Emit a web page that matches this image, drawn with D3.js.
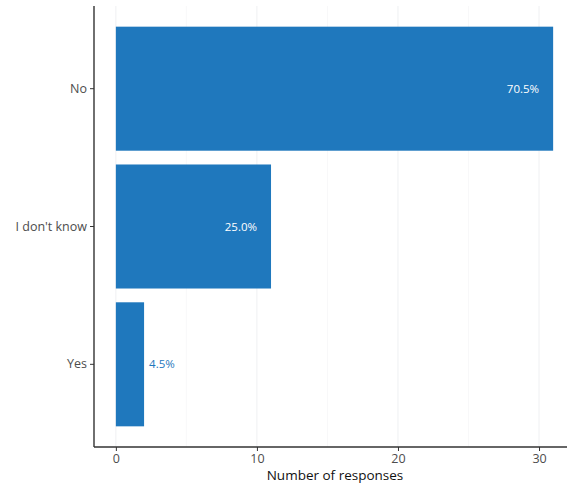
<!DOCTYPE html>
<html>
<head>
<meta charset="utf-8">
<script src="https://cdn.jsdelivr.net/npm/d3@7"></script>
<style>
  body { margin: 0; background: #fff; }
  svg { font-family: "Open Sans", Lato, sans-serif; }
</style>
</head>
<body>
<div id="chart" style="width:567px;height:485px"></div>
<script>
// data
const categories = ["No", "I don't know", "Yes"];
const counts = [31, 11, 2];
const pctLabels = ["70.5%", "25.0%", "4.5%"];
const xTicks = [0, 10, 20, 30];
const xMinor = [5, 15, 25, 35];

const width = 567, height = 485;
const margin = {top: 6, left: 94, right: -8, bottom: 38};
const plotWidth = width - margin.left - margin.right;
const plotHeight = height - margin.top - margin.bottom;

const svg = d3.select("#chart").append("svg")
    .attr("width", width)
    .attr("height", height);

const BLUE = "#1f78bd";

// x scale with ggplot-like 5% expansion
let xScale = d3.scaleLinear()
    .domain([-1.55, 32.55])
    .range([0, plotWidth]);

// y: discrete, 0.6 expansion each side
const step = plotHeight / (categories.length - 1 + 1.2);
let yScale = d3.scaleBand()
    .domain(categories)
    .range([0.1 * step, plotHeight - 0.1 * step])
    .paddingInner(0.1)
    .paddingOuter(0.05);

const plot = svg.append("g")
    .attr("transform", `translate(${margin.left}, ${margin.top})`);

// gridlines
plot.selectAll(".gridMinor")
    .data(xMinor)
    .enter().append("line")
    .attr("x1", d => xScale(d)).attr("x2", d => xScale(d))
    .attr("y1", 0).attr("y2", plotHeight)
    .style("stroke", "#f3f4f5").style("stroke-width", 0.6);

plot.selectAll(".gridMajor")
    .data(xTicks)
    .enter().append("line")
    .attr("x1", d => xScale(d)).attr("x2", d => xScale(d))
    .attr("y1", 0).attr("y2", plotHeight)
    .style("stroke", "#eff0f2").style("stroke-width", 1);

// bars
const data = categories.map((c, i) => ({cat: c, n: counts[i], pct: pctLabels[i]}));

plot.selectAll(".bar")
    .data(data)
    .enter().append("rect")
    .attr("x", xScale(0))
    .attr("y", d => yScale(d.cat))
    .attr("height", yScale.bandwidth())
    .attr("width", d => xScale(d.n) - xScale(0))
    .style("fill", BLUE);

// percent labels
plot.selectAll(".pct")
    .data(data)
    .enter().append("text")
    .attr("x", d => d.n > 5 ? xScale(d.n) - 14 : xScale(d.n) + 5)
    .attr("y", d => yScale(d.cat) + yScale.bandwidth() / 2)
    .attr("dy", "0.35em")
    .attr("text-anchor", d => d.n > 5 ? "end" : "start")
    .style("fill", d => d.n > 5 ? "#ffffff" : BLUE)
    .style("font-size", "11.5px")
    .text(d => d.pct);

// axes
const xAxis = plot.append("g")
    .attr("transform", `translate(0, ${plotHeight})`)
    .call(d3.axisBottom(xScale).tickValues(xTicks).tickSize(4).tickPadding(3));

const yAxis = plot.append("g")
    .call(d3.axisLeft(yScale).tickSize(4).tickPadding(3));

[xAxis, yAxis].forEach(ax => {
    ax.select(".domain").style("stroke", "#333").style("stroke-width", 1.4);
    ax.selectAll(".tick line").style("stroke", "#333").style("stroke-width", 1);
    ax.selectAll(".tick text")
        .style("fill", "#4d4d4d")
        .style("font-size", "12.5px")
        .style("font-family", "'Open Sans', sans-serif");
});
yAxis.select(".domain").attr("d", `M0,0V${plotHeight}`);
xAxis.select(".domain").attr("d", `M0,0H${plotWidth}`);

// axis title
svg.append("text")
    .attr("x", 335)
    .attr("y", 480)
    .attr("text-anchor", "middle")
    .style("font-size", "13.5px")
    .style("fill", "#111")
    .text("Number of responses");
</script>
</body>
</html>
